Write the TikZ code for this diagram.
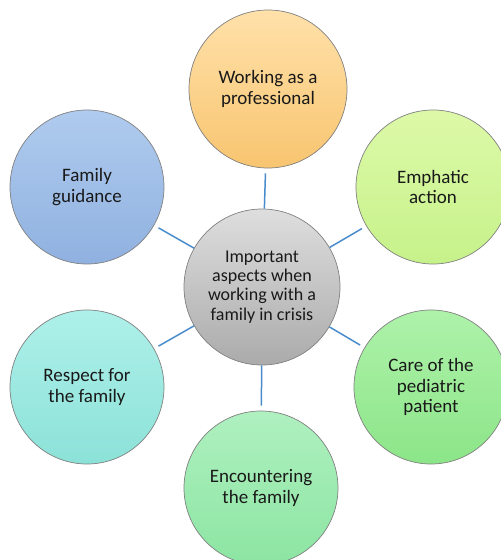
\documentclass[tikz,border=0pt]{standalone}
\usepackage{fontspec}
\setmainfont{Carlito}

\begin{document}
\begin{tikzpicture}[x=1pt,y=-1pt,
  bubble/.style={circle,minimum size=154pt,inner sep=0pt,draw=black!50,line width=0.7pt,
    align=center,font=\fontsize{19}{20.5}\selectfont,text=black!90},
  spoke/.style={draw=spokeblue,line width=1.5pt,shorten >=5pt}]
\useasboundingbox (0,0) rectangle (501,560);
\definecolor{spokeblue}{HTML}{4A8CCB}
\definecolor{profA}{HTML}{FFE1AA}\definecolor{profB}{HTML}{F8C570}
\definecolor{empA}{HTML}{DDF9A8}\definecolor{empB}{HTML}{C6F28A}
\definecolor{guiA}{HTML}{AFCBEE}\definecolor{guiB}{HTML}{90B1E0}
\definecolor{resA}{HTML}{AEF0EA}\definecolor{resB}{HTML}{8CE2D8}
\definecolor{encA}{HTML}{AFF0C0}\definecolor{encB}{HTML}{8CE5A2}
\definecolor{carA}{HTML}{AEF2AA}\definecolor{carB}{HTML}{8CE588}
\path (262,287) node[bubble,minimum size=156pt,top color=black!13,bottom color=black!33,
  font=\fontsize{18}{19.2}\selectfont] (core)
  {Important\\aspects when\\working with a\\family in crisis};

\path (268,89) node[bubble,minimum size=158pt,top color=profA,bottom color=profB] (prof) {Working as a\\professional};
\path (433,187) node[bubble,top color=empA,bottom color=empB] (emph) {Emphatic\\action};
\path (431,387) node[bubble,top color=carA,bottom color=carB] (care) {Care of the\\pediatric\\patient};
\path (261,488) node[bubble,top color=encA,bottom color=encB] (enc) {Encountering\\the family};
\path (87,387) node[bubble,top color=resA,bottom color=resB] (resp) {Respect for\\the family};
\path (87,187) node[bubble,top color=guiA,bottom color=guiB] (guid) {Family\\guidance};

\draw[spoke] (core) -- (prof);
\draw[spoke] (core) -- (emph);
\draw[spoke] (core) -- (care);
\draw[spoke] (core) -- (enc);
\draw[spoke] (core) -- (resp);
\draw[spoke] (core) -- (guid);
\end{tikzpicture}
\end{document}
